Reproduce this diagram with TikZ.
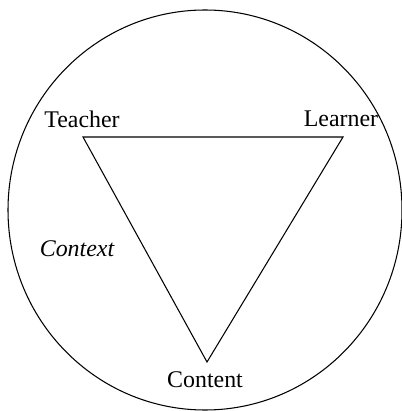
\documentclass[tikz,border=0pt]{standalone}
\usepackage{fontspec}
\setmainfont{Liberation Serif}
\usetikzlibrary{positioning}

\begin{document}
\begin{tikzpicture}[x=0.02cm,y=-0.02cm,line width=0.6pt,
  label text/.style={font=\fontsize{13.6}{16}\selectfont, inner sep=0pt}]
\useasboundingbox (0,0) rectangle (401,411);
% Context circle
\draw (205,210) ellipse [x radius=197, y radius=200];
% Triangle corners
\coordinate (t) at (83,137);
\coordinate (l) at (343,137);
\coordinate (c) at (207,362);
\draw (t) -- (l) -- (c) -- cycle;
% Labels
\node[label text] (teacher) at (82,119) {Teacher};
\node[label text] (learner) at (341,119) {Learner};
\node[label text] (content) at (205,380) {Content};
\node[label text, font=\fontsize{13.6}{16}\selectfont\itshape] (context) at (77,249) {Context};
\end{tikzpicture}
\end{document}
